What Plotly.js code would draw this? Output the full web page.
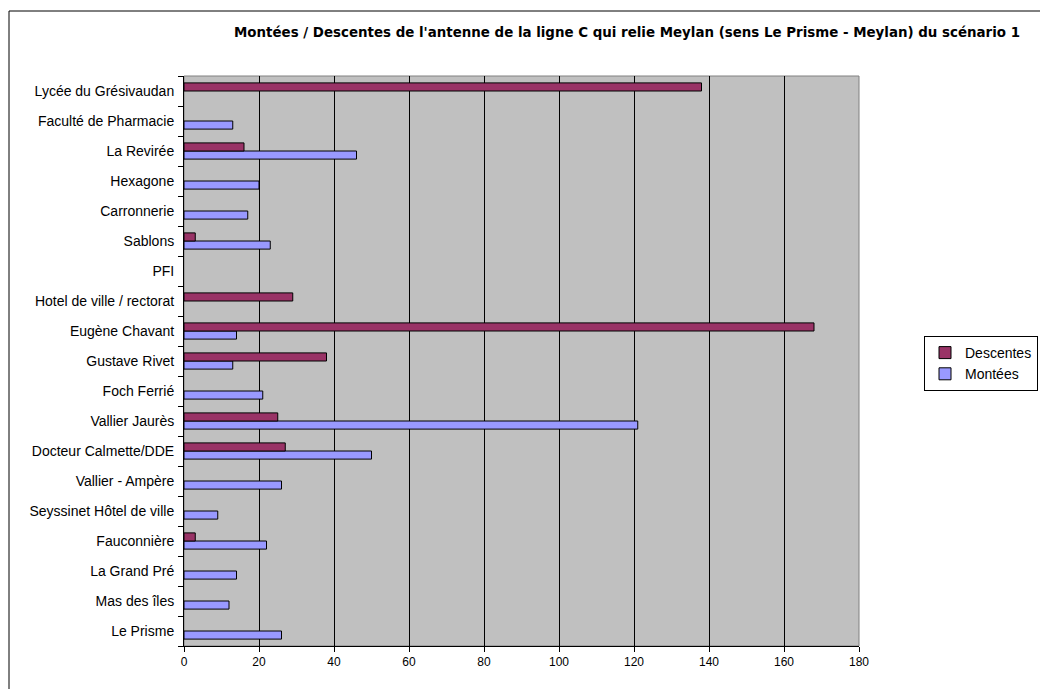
<!DOCTYPE html>
<html>
<head>
<meta charset="utf-8">
<script src="https://cdn.plot.ly/plotly-3.0.1.min.js"></script>
<style>html,body{margin:0;padding:0;background:#fff;}#chart{width:1040px;height:689px;}</style>
</head>
<body>
<div id="chart"></div>
<script>
// Categories from bottom to top
const stops = [
  "Le Prisme", "Mas des îles", "La Grand Pré", "Fauconnière", "Seyssinet Hôtel de ville",
  "Vallier - Ampère", "Docteur Calmette/DDE", "Vallier Jaurès", "Foch Ferrié", "Gustave Rivet",
  "Eugène Chavant", "Hotel de ville / rectorat", "PFI", "Sablons", "Carronnerie",
  "Hexagone", "La Revirée", "Faculté de Pharmacie", "Lycée du Grésivaudan"
];
const descentes = [null, null, null, 3, null, null, 27, 25, null, 38, 168, 29, null, 3, null, null, 16, null, 138];
const montees   = [26, 12, 14, 22, 9, 26, 50, 121, 21, 13, 14, null, null, 23, 17, 20, 46, 13, null];
const xTicks = [0, 20, 40, 60, 80, 100, 120, 140, 160, 180];
const titleText = "Montées / Descentes de l'antenne de la ligne C qui relie Meylan (sens Le Prisme - Meylan) du scénario 1";

const font = "Liberation Sans, Arial, sans-serif";

const data = [
  {type: "bar", orientation: "h", name: "Montées", y: stops, x: montees,
   marker: {color: "#9999FF", line: {color: "#000", width: 1}}, hoverinfo: "x+y"},
  {type: "bar", orientation: "h", name: "Descentes", y: stops, x: descentes,
   marker: {color: "#993366", line: {color: "#000", width: 1}}, hoverinfo: "x+y"}
];

const layout = {
  width: 1040, height: 689,
  paper_bgcolor: "#fff", plot_bgcolor: "#C0C0C0",
  margin: {l: 184, r: 181, t: 76, b: 43, pad: 0},
  barmode: "group", bargap: 0.46, bargroupgap: 0,
  font: {family: font, size: 12, color: "#000"},
  title: {text: "<b>" + titleText + "</b>", font: {family: "DejaVu Sans, sans-serif", size: 13.4, color: "#000"},
          x: 627/1040, xref: "container", xanchor: "center", y: 1 - 32/689, yref: "container", yanchor: "middle"},
  xaxis: {range: [0, 180], tickvals: xTicks, ticktext: xTicks.map(String),
          showgrid: true, gridcolor: "#000", gridwidth: 1, zeroline: false,
          showline: true, linecolor: "#000", linewidth: 1,
          ticks: "outside", ticklen: 5, tickcolor: "#000",
          tickfont: {family: font, size: 12, color: "#000"}, fixedrange: true},
  yaxis: {type: "category", categoryorder: "array", categoryarray: stops,
          showgrid: false, zeroline: false, showline: true, linecolor: "#000", linewidth: 1,
          ticks: "outside", tickson: "boundaries", ticklen: 5, tickcolor: "#000",
          ticklabelstandoff: 6,
          tickfont: {family: font, size: 14, color: "#000"}, fixedrange: true},
  legend: {xref: "container", yref: "container", x: 924/1040, xanchor: "left", y: 1 - 336/689, yanchor: "top",
           traceorder: "reversed", bordercolor: "#000", borderwidth: 1,
           bgcolor: "#fff", itemwidth: 30, tracegroupgap: 0,
           font: {family: font, size: 14, color: "#000"}},
  shapes: [
    {type: "rect", xref: "paper", yref: "paper", x0: 0, x1: 1, y0: 0, y1: 1,
     line: {color: "#808080", width: 1}, fillcolor: "rgba(0,0,0,0)", layer: "below"},
    {type: "rect", xref: "paper", yref: "paper",
     x0: (9 - 184) / 675, x1: (1060 - 184) / 675, y0: -(700 - 646) / 570, y1: (646 - 11) / 570,
     line: {color: "#000", width: 1}, fillcolor: "rgba(0,0,0,0)", layer: "below"}
  ]
};

Plotly.newPlot("chart", data, layout, {displayModeBar: false});
</script>
</body>
</html>
